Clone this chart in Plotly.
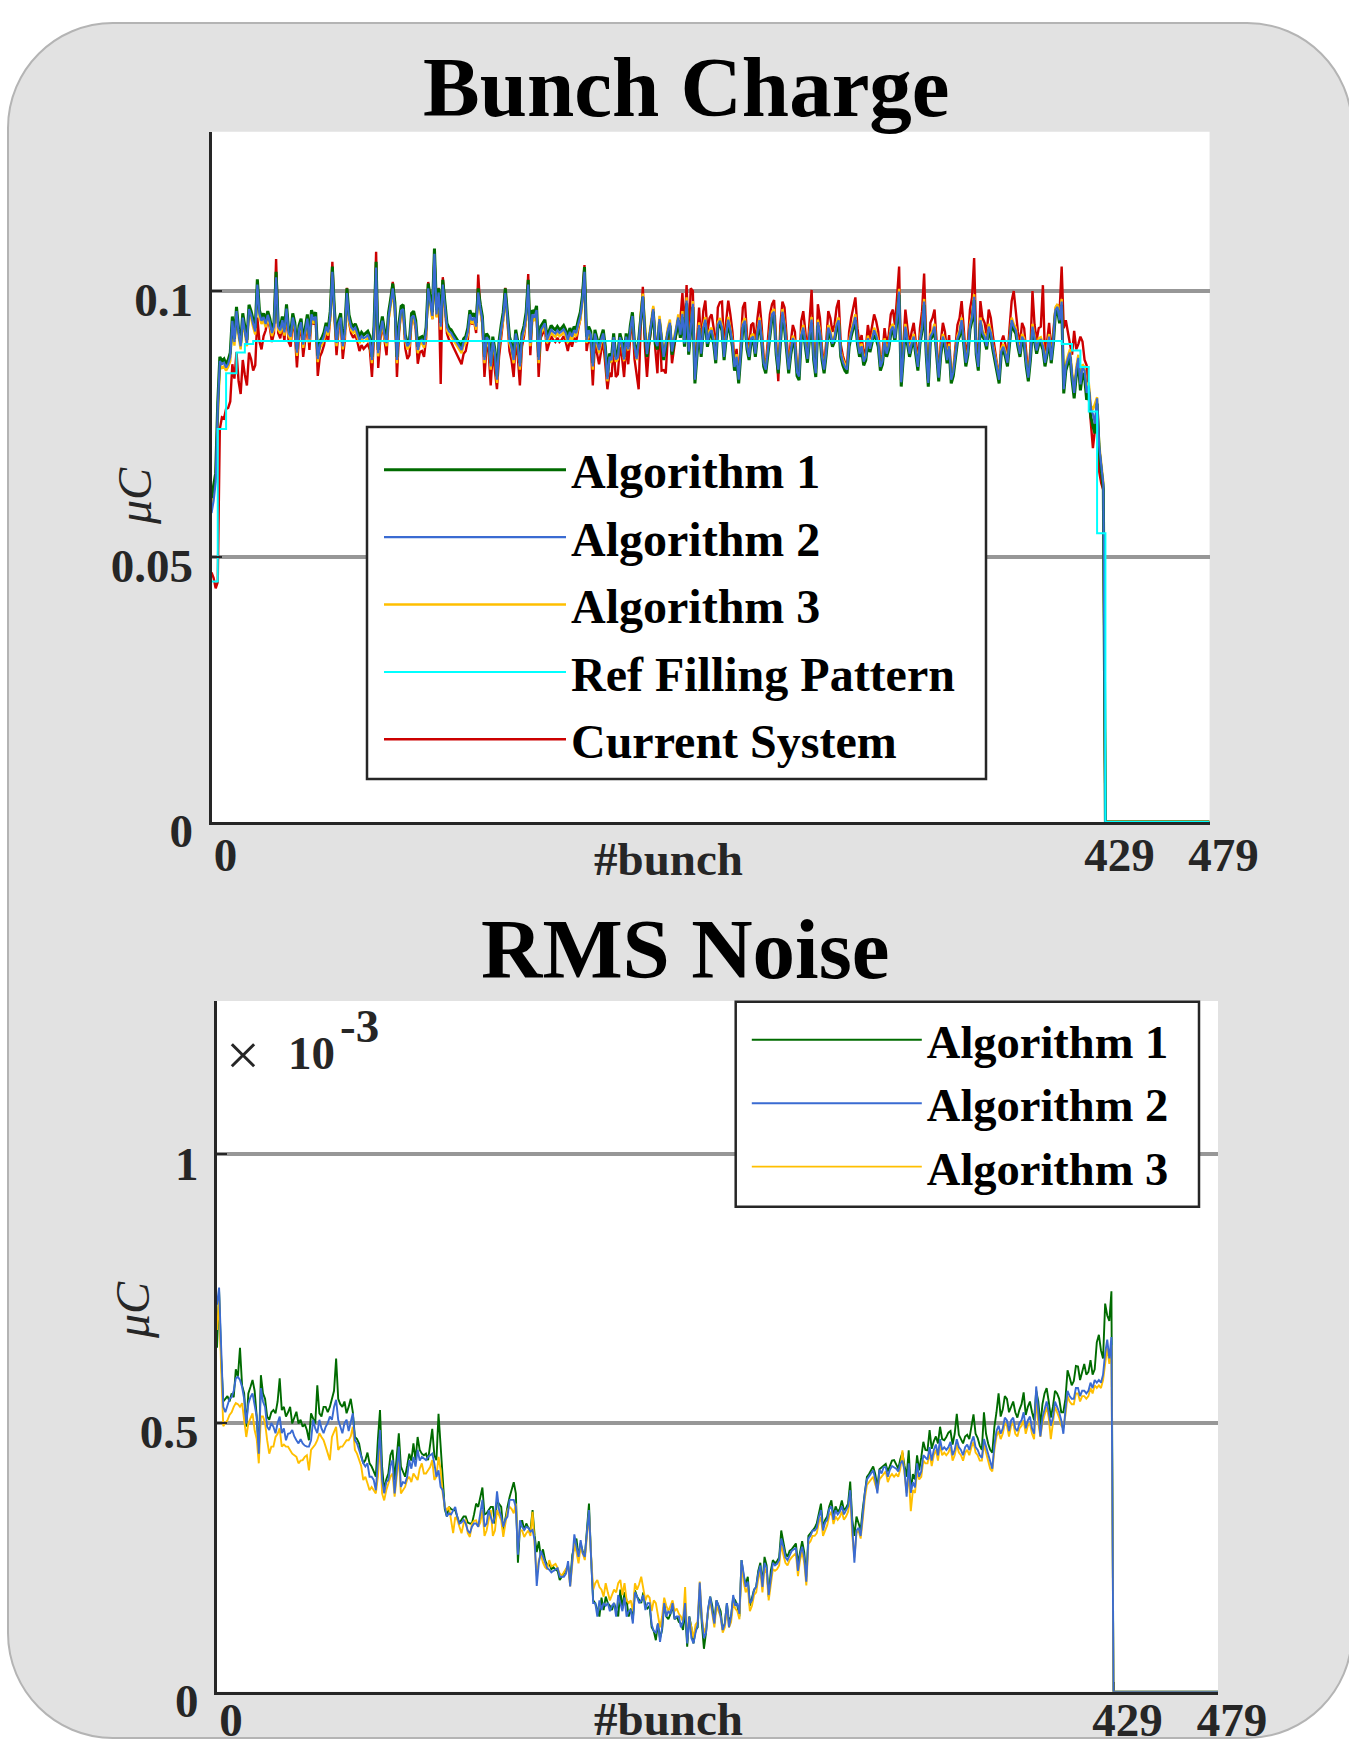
import plotly.graph_objects as go

W, H = 1349, 1746

# ---------------- data ----------------
# bunch index of every sample (bunches 430..478 are empty, drawn as a flat zero line to 479)
BUNCH = list(range(430)) + [479]

# Bunch charge, units of 1e-4 uC, bunches 0..428, then 0 at 429 and 479
BC_ALG1 = [
    610, 632, 657, 790, 876, 868, 872, 862, 870, 884,
    952, 910, 970, 928, 902, 958, 930, 908, 974, 962,
    945, 930, 1022, 964, 950, 958, 944, 962, 948, 927,
    940, 1036, 940, 932, 952, 928, 975, 927, 920, 958,
    940, 890, 935, 948, 905, 930, 956, 915, 964, 952,
    960, 878, 905, 912, 922, 940, 928, 962, 1046, 964,
    908, 945, 958, 902, 930, 1005, 955, 939, 933, 938,
    928, 914, 922, 917, 920, 924, 915, 876, 935, 1055,
    889, 930, 952, 925, 908, 960, 985, 1014, 978, 876,
    940, 971, 974, 918, 902, 908, 958, 962, 945, 895,
    912, 914, 905, 932, 1014, 989, 960, 1080, 964, 1005,
    940, 1021, 982, 939, 930, 927, 920, 914, 908, 902,
    895, 910, 914, 930, 964, 952, 958, 940, 1005, 975,
    952, 876, 920, 914, 864, 914, 890, 839, 905, 935,
    960, 1005, 960, 914, 900, 876, 927, 905, 864, 920,
    935, 960, 1021, 908, 964, 958, 972, 876, 933, 940,
    946, 914, 925, 935, 930, 927, 933, 927, 930, 935,
    927, 914, 930, 920, 933, 927, 945, 960, 990, 1045,
    914, 933, 924, 864, 927, 908, 895, 914, 927, 895,
    839, 882, 876, 920, 876, 880, 920, 905, 876, 920,
    895, 935, 960, 902, 876, 908, 952, 989, 920, 876,
    905, 930, 961, 900, 890, 942, 905, 870, 895, 920,
    935, 880, 902, 920, 945, 912, 951, 895, 977, 880,
    925, 970, 826, 880, 930, 876, 925, 940, 895, 915,
    920, 900, 864, 930, 938, 925, 870, 910, 940, 920,
    895, 850, 870, 826, 880, 930, 938, 890, 870, 905,
    908, 876, 915, 939, 905, 858, 845, 880, 920, 950,
    955, 880, 845, 905, 955, 930, 890, 845, 880, 905,
    895, 840, 832, 910, 925, 895, 865, 910, 940, 870,
    838, 935, 915, 870, 845, 880, 925, 915, 895, 905,
    930, 939, 876, 860, 850, 845, 895, 915, 930, 945,
    900, 876, 890, 860, 870, 905, 885, 900, 920, 910,
    895, 850, 862, 900, 876, 890, 920, 927, 905, 945,
    993, 820, 870, 927, 900, 876, 895, 908, 880, 850,
    900, 925, 974, 880, 820, 908, 915, 927, 880, 830,
    880, 908, 895, 864, 890, 826, 840, 876, 905, 915,
    939, 900, 858, 880, 927, 945, 983, 880, 850, 939,
    915, 908, 890, 927, 915, 889, 870, 845, 826, 880,
    889, 876, 858, 900, 939, 927, 920, 895, 876, 908,
    900, 858, 830, 870, 927, 905, 882, 900, 902, 890,
    858, 880, 908, 864, 900, 958, 964, 939, 974, 807,
    850, 864, 876, 832, 798, 840, 864, 813, 845, 838,
    795, 810, 763, 745, 732, 788, 700, 663, 628,
    0, 0,
]

BC_ALG2 = [
    582, 605, 640, 780, 868, 862, 865, 856, 863, 876,
    944, 904, 962, 921, 896, 950, 924, 902, 966, 955,
    938, 924, 1012, 957, 944, 951, 938, 955, 941, 921,
    934, 1026, 933, 926, 945, 922, 967, 921, 914, 950,
    933, 884, 928, 941, 899, 923, 948, 909, 956, 945,
    952, 872, 899, 905, 915, 933, 922, 954, 1036, 957,
    902, 938, 950, 896, 923, 996, 948, 932, 927, 931,
    921, 908, 915, 911, 913, 917, 909, 870, 928, 1044,
    883, 923, 944, 918, 902, 952, 977, 1005, 970, 870,
    933, 963, 966, 912, 896, 902, 950, 954, 938, 889,
    906, 908, 899, 925, 1005, 981, 953, 1070, 956, 997,
    933, 1012, 975, 932, 924, 921, 914, 908, 902, 896,
    889, 904, 908, 923, 956, 945, 950, 933, 997, 968,
    945, 870, 913, 908, 858, 907, 884, 833, 898, 928,
    952, 996, 952, 907, 894, 870, 920, 899, 858, 913,
    928, 952, 1012, 902, 956, 950, 964, 870, 926, 933,
    939, 908, 918, 928, 923, 920, 926, 921, 924, 928,
    921, 908, 923, 914, 926, 921, 938, 952, 982, 1036,
    908, 926, 918, 858, 920, 902, 889, 908, 920, 889,
    834, 876, 870, 913, 871, 875, 913, 900, 871, 914,
    890, 929, 953, 898, 872, 904, 956, 990, 924, 881,
    910, 935, 966, 906, 896, 947, 911, 876, 901, 925,
    940, 886, 908, 926, 950, 918, 957, 901, 982, 886,
    931, 976, 833, 886, 936, 882, 931, 946, 901, 921,
    926, 906, 870, 936, 944, 931, 876, 916, 946, 926,
    901, 857, 876, 833, 886, 936, 944, 896, 876, 911,
    914, 882, 921, 945, 911, 864, 852, 886, 926, 956,
    961, 886, 852, 911, 961, 936, 896, 852, 886, 911,
    901, 847, 839, 916, 931, 901, 872, 916, 946, 876,
    845, 941, 921, 876, 852, 886, 931, 921, 901, 911,
    936, 945, 882, 866, 857, 852, 901, 921, 936, 951,
    906, 882, 896, 867, 876, 911, 891, 906, 926, 916,
    901, 857, 868, 906, 882, 896, 926, 933, 911, 951,
    999, 828, 876, 933, 906, 882, 901, 914, 886, 857,
    906, 931, 980, 886, 827, 914, 921, 933, 886, 837,
    886, 914, 901, 870, 896, 833, 847, 882, 911, 921,
    945, 906, 865, 886, 933, 951, 989, 886, 857, 945,
    921, 914, 896, 933, 921, 895, 876, 852, 833, 886,
    895, 882, 865, 906, 945, 933, 926, 901, 882, 914,
    906, 865, 837, 876, 933, 911, 888, 906, 908, 896,
    865, 886, 914, 870, 906, 964, 970, 945, 980, 815,
    858, 872, 884, 841, 808, 850, 874, 824, 856, 850,
    808, 822, 778, 768, 750, 798, 708, 672, 635,
    0, 0,
]

BC_ALG3 = [
    600, 620, 650, 770, 860, 855, 858, 850, 857, 868,
    938, 897, 956, 915, 890, 944, 918, 896, 960, 949,
    932, 918, 1006, 951, 938, 945, 932, 949, 935, 915,
    928, 1020, 927, 920, 939, 916, 961, 915, 908, 944,
    927, 878, 922, 935, 893, 917, 942, 903, 950, 939,
    946, 866, 893, 899, 909, 927, 916, 948, 1030, 951,
    896, 932, 944, 890, 917, 990, 942, 926, 921, 925,
    915, 902, 909, 905, 907, 911, 903, 864, 922, 1038,
    877, 917, 938, 912, 896, 946, 971, 999, 964, 864,
    927, 957, 960, 906, 890, 896, 944, 948, 932, 883,
    900, 902, 893, 919, 999, 975, 947, 1064, 950, 991,
    927, 1006, 969, 926, 918, 915, 908, 902, 896, 890,
    883, 898, 902, 917, 950, 939, 944, 927, 991, 962,
    939, 864, 907, 902, 852, 901, 878, 827, 892, 922,
    946, 990, 946, 901, 888, 864, 914, 893, 852, 907,
    922, 946, 1006, 896, 950, 944, 958, 864, 920, 927,
    933, 902, 912, 922, 917, 914, 920, 915, 918, 922,
    915, 902, 917, 908, 920, 915, 932, 946, 976, 1030,
    902, 920, 912, 852, 914, 896, 883, 902, 914, 883,
    830, 871, 866, 909, 867, 871, 909, 896, 868, 911,
    888, 927, 951, 896, 870, 902, 960, 995, 930, 886,
    915, 940, 972, 911, 901, 953, 916, 881, 906, 931,
    946, 891, 913, 931, 956, 923, 962, 906, 988, 891,
    936, 981, 838, 891, 941, 887, 936, 951, 906, 926,
    931, 911, 875, 941, 949, 936, 881, 921, 951, 931,
    906, 862, 881, 838, 891, 941, 949, 901, 881, 916,
    919, 887, 926, 950, 916, 869, 857, 891, 931, 961,
    966, 891, 857, 916, 966, 941, 901, 857, 891, 916,
    906, 852, 844, 921, 936, 906, 877, 921, 951, 881,
    850, 946, 926, 881, 857, 891, 936, 926, 906, 916,
    941, 950, 887, 871, 862, 857, 906, 926, 941, 956,
    911, 887, 901, 872, 881, 916, 896, 911, 931, 921,
    906, 862, 873, 911, 887, 901, 931, 938, 916, 956,
    1004, 833, 881, 938, 911, 887, 906, 919, 891, 862,
    911, 936, 985, 891, 832, 919, 926, 938, 891, 842,
    891, 919, 906, 875, 901, 838, 852, 887, 916, 926,
    950, 911, 870, 891, 938, 956, 994, 891, 862, 950,
    926, 919, 901, 938, 926, 900, 881, 857, 838, 891,
    900, 887, 870, 911, 950, 938, 931, 906, 887, 919,
    911, 870, 842, 881, 938, 916, 893, 911, 913, 901,
    870, 891, 919, 875, 911, 969, 975, 950, 985, 820,
    864, 878, 890, 848, 815, 856, 880, 830, 862, 856,
    814, 828, 785, 776, 790, 800, 712, 675, 640,
    0, 0,
]

BC_CURRENT = [
    470, 460, 440, 452, 740, 762, 760, 778, 780, 792,
    862, 835, 885, 830, 806, 870, 842, 822, 884, 872,
    850, 860, 950, 905, 890, 915, 926, 950, 931, 904,
    921, 1060, 921, 911, 937, 905, 967, 904, 895, 944,
    921, 856, 915, 931, 876, 908, 942, 889, 952, 937,
    947, 840, 876, 885, 898, 921, 905, 950, 1055, 952,
    879, 928, 944, 872, 908, 1006, 941, 920, 912, 918,
    905, 887, 898, 891, 895, 900, 889, 838, 915, 1074,
    855, 908, 937, 902, 879, 947, 980, 1017, 970, 838,
    921, 961, 965, 892, 872, 879, 944, 950, 928, 863,
    885, 887, 876, 911, 1017, 985, 947, 1070, 952, 1006,
    825, 1026, 976, 920, 908, 904, 895, 887, 879, 872,
    862, 882, 887, 908, 952, 937, 944, 921, 1031, 967,
    937, 838, 895, 887, 822, 887, 856, 815, 876, 915,
    947, 1006, 947, 887, 869, 838, 904, 876, 822, 895,
    915, 947, 1032, 879, 952, 944, 963, 838, 912, 921,
    929, 887, 902, 915, 908, 904, 912, 904, 908, 915,
    904, 887, 908, 895, 912, 904, 928, 947, 986, 1049,
    887, 912, 900, 822, 904, 879, 862, 887, 904, 862,
    815, 846, 838, 895, 838, 843, 895, 876, 838, 895,
    862, 915, 947, 872, 838, 815, 937, 1008, 895, 838,
    896, 929, 969, 890, 845, 945, 850, 851, 845, 916,
    935, 864, 893, 916, 949, 946, 996, 924, 1011, 904,
    1005, 1000, 834, 904, 969, 899, 962, 982, 923, 949,
    956, 930, 883, 969, 979, 980, 891, 943, 982, 956,
    923, 865, 891, 834, 904, 969, 979, 917, 891, 936,
    940, 899, 949, 981, 936, 875, 858, 904, 956, 975,
    983, 904, 830, 936, 980, 969, 917, 858, 904, 936,
    923, 852, 842, 943, 962, 923, 884, 943, 1002, 891,
    849, 975, 949, 891, 858, 904, 962, 949, 923, 936,
    969, 983, 899, 878, 865, 858, 923, 949, 969, 988,
    930, 899, 917, 878, 891, 936, 910, 930, 956, 943,
    923, 865, 881, 930, 899, 917, 956, 965, 936, 988,
    1046, 826, 891, 965, 930, 899, 923, 940, 904, 865,
    930, 962, 1033, 904, 826, 940, 949, 965, 904, 839,
    904, 940, 923, 883, 917, 834, 852, 899, 936, 949,
    981, 930, 875, 904, 965, 988, 1062, 904, 865, 981,
    949, 940, 917, 965, 949, 916, 891, 858, 834, 904,
    916, 899, 875, 930, 981, 1000, 956, 923, 899, 940,
    930, 875, 839, 891, 1000, 936, 907, 930, 933, 1011,
    875, 904, 940, 883, 930, 965, 975, 960, 1046, 930,
    945, 920, 900, 880, 925, 890, 900, 914, 905, 870,
    860, 800, 750, 704, 740, 770, 660, 638, 625,
    0, 0,
]

# Reference filling pattern: step values (1e-4 uC) starting at each listed bunch
REF_BUNCH = [0, 3, 7, 12, 16, 20, 408, 413, 417, 421, 425, 429, 479]
REF_LEVEL = [453, 740, 845, 884, 900, 906, 900, 888, 857, 773, 544, 0, 0]

# RMS noise, units of 1e-6 uC (axis shows x 10^-3 uC), bunches 0..428, then 0 at 429 and 479
RMS_ALG1 = [
    640, 745, 620, 540, 545, 550, 540, 555, 548, 600,
    586, 640, 570, 555, 493, 555, 567, 580, 560, 512,
    443, 589, 555, 545, 512, 506, 520, 524, 518, 540,
    583, 524, 530, 512, 520, 530, 499, 512, 521, 499,
    506, 493, 498, 487, 468, 518, 510, 499, 570, 518,
    512, 530, 530, 520, 530, 543, 560, 620, 545, 535,
    530, 540, 518, 530, 545, 520, 474, 470, 462, 440,
    425, 431, 445, 425, 419, 410, 400, 470, 524, 419,
    375, 395, 406, 440, 450, 394, 440, 481, 419, 410,
    400, 420, 443, 430, 462, 431, 474, 450, 443, 440,
    443, 431, 460, 489, 440, 431, 517, 462, 394, 340,
    326, 344, 340, 338, 338, 325, 313, 320, 326, 326,
    315, 313, 313, 330, 350, 344, 360, 380, 330, 332,
    338, 344, 344, 313, 355, 350, 344, 300, 325, 344,
    362, 375, 390, 369, 240, 307, 319, 301, 313, 305,
    300, 338, 290, 260, 280, 250, 265, 245, 235, 239,
    228, 232, 227, 225, 208, 214, 220, 227, 235, 205,
    254, 270, 285, 251, 276, 262, 251, 301, 350, 251,
    170, 165, 150, 140, 175, 152, 177, 165, 160, 152,
    165, 150, 140, 190, 155, 185, 170, 140, 155, 135,
    189, 177, 170, 165, 185, 160, 155, 160, 120, 113,
    96, 127, 100, 115, 165, 140, 135, 145, 160, 135,
    140, 130, 127, 115, 150, 84, 140, 120, 90, 115,
    120, 190, 127, 80, 110, 152, 177, 160, 127, 170,
    160, 150, 115, 127, 165, 130, 140, 175, 170, 160,
    140, 245, 215, 200, 214, 160, 175, 190, 195, 225,
    240, 200, 251, 235, 177, 225, 245, 239, 243, 250,
    300, 280, 258, 251, 262, 265, 270, 276, 239, 262,
    280, 260, 214, 290, 295, 300, 305, 313, 330, 350,
    305, 320, 326, 345, 356, 326, 345, 335, 340, 356,
    338, 342, 350, 391, 320, 290, 326, 315, 301, 340,
    375, 400, 405, 412, 419, 405, 380, 414, 418, 420,
    424, 410, 420, 430, 431, 424, 415, 433, 445, 420,
    400, 449, 372, 405, 395, 440, 412, 436, 465, 450,
    449, 487, 452, 466, 475, 462, 493, 470, 468, 474,
    482, 485, 460, 480, 517, 478, 470, 462, 475, 478,
    470, 490, 516, 480, 472, 458, 450, 520, 480, 462,
    450, 445, 493, 520, 555, 512, 525, 550, 545, 520,
    530, 540, 520, 510, 525, 535, 557, 515, 530, 540,
    520, 505, 560, 540, 495, 535, 555, 565, 540, 510,
    530, 560, 555, 545, 520, 520, 545, 598, 585, 570,
    578, 606, 605, 580, 595, 610, 590, 595, 617, 590,
    600, 650, 664, 635, 620, 722, 700, 690, 745,
    0, 0,
]

RMS_ALG2 = [
    720, 752, 640, 530, 520, 535, 545, 548, 560, 583,
    586, 580, 567, 545, 499, 536, 548, 555, 530, 512,
    443, 565, 540, 530, 493, 487, 500, 493, 481, 500,
    512, 481, 490, 468, 480, 481, 487, 475, 468, 462,
    470, 462, 458, 456, 456, 468, 506, 490, 481, 506,
    490, 481, 493, 500, 512, 506, 530, 543, 506, 495,
    481, 500, 506, 485, 500, 518, 468, 462, 450, 437,
    425, 419, 425, 400, 400, 394, 375, 430, 487, 394,
    369, 390, 394, 420, 431, 369, 410, 456, 381, 390,
    388, 400, 431, 415, 437, 419, 450, 430, 437, 433,
    431, 437, 440, 443, 425, 400, 412, 381, 375, 344,
    326, 332, 330, 338, 344, 325, 313, 315, 320, 313,
    300, 295, 307, 313, 313, 307, 330, 357, 307, 313,
    338, 325, 313, 326, 373, 338, 326, 307, 320, 326,
    357, 357, 357, 344, 255, 319, 307, 301, 307, 305,
    298, 301, 282, 197, 240, 262, 250, 240, 230, 227,
    222, 225, 227, 230, 214, 214, 214, 220, 243, 196,
    254, 293, 270, 251, 282, 258, 251, 290, 338, 251,
    165, 165, 140, 170, 152, 165, 160, 165, 150, 160,
    165, 140, 180, 165, 150, 175, 140, 150, 152, 127,
    185, 177, 165, 170, 180, 152, 165, 165, 125, 113,
    110, 127, 93, 120, 165, 140, 150, 145, 165, 135,
    140, 140, 120, 130, 165, 90, 140, 100, 90, 110,
    125, 203, 135, 100, 110, 155, 177, 150, 127, 170,
    160, 140, 115, 127, 165, 120, 140, 180, 160, 165,
    145, 245, 215, 195, 205, 165, 170, 190, 195, 220,
    235, 195, 240, 230, 180, 215, 240, 235, 238, 245,
    285, 270, 250, 245, 255, 262, 265, 268, 225, 255,
    270, 250, 205, 285, 290, 300, 300, 305, 325, 338,
    300, 315, 320, 340, 345, 320, 338, 330, 335, 345,
    330, 338, 345, 375, 300, 240, 300, 305, 290, 330,
    370, 395, 400, 405, 412, 395, 369, 413, 406, 418,
    418, 400, 413, 420, 418, 415, 410, 425, 430, 412,
    363, 425, 370, 390, 380, 425, 400, 410, 440, 436,
    432, 455, 430, 450, 460, 440, 470, 450, 455, 450,
    455, 465, 440, 450, 470, 455, 450, 440, 455, 460,
    450, 465, 475, 455, 450, 440, 435, 470, 455, 445,
    425, 415, 460, 485, 495, 480, 490, 510, 505, 485,
    505, 510, 490, 485, 500, 505, 520, 490, 505, 512,
    490, 480, 568, 520, 475, 510, 525, 540, 520, 495,
    510, 540, 530, 520, 505, 480, 525, 560, 550, 545,
    545, 565, 565, 550, 560, 560, 555, 560, 575, 565,
    580, 575, 580, 575, 590, 630, 655, 620, 660,
    0, 0,
]

RMS_ALG3 = [
    673, 729, 600, 494, 500, 505, 515, 520, 530, 537,
    535, 530, 537, 505, 474, 499, 510, 518, 487, 470,
    425, 512, 512, 500, 468, 443, 456, 456, 474, 480,
    490, 456, 460, 456, 456, 450, 443, 440, 437, 425,
    430, 431, 437, 440, 412, 450, 455, 460, 468, 481,
    474, 468, 456, 445, 431, 474, 485, 493, 450, 456,
    456, 462, 468, 468, 475, 493, 450, 443, 431, 420,
    394, 400, 388, 375, 381, 375, 369, 400, 462, 369,
    356, 375, 388, 400, 406, 363, 400, 437, 369, 375,
    381, 395, 400, 390, 406, 400, 394, 415, 425, 406,
    406, 412, 418, 431, 394, 400, 437, 413, 369, 344,
    338, 344, 320, 295, 325, 320, 307, 295, 313, 320,
    295, 288, 313, 318, 319, 307, 315, 338, 290, 300,
    320, 338, 290, 300, 338, 330, 319, 288, 310, 338,
    344, 340, 332, 350, 270, 300, 300, 288, 295, 300,
    290, 335, 270, 215, 245, 255, 240, 232, 228, 245,
    233, 235, 238, 230, 220, 216, 222, 230, 235, 196,
    240, 276, 260, 239, 270, 255, 245, 288, 330, 255,
    190, 202, 208, 195, 190, 177, 202, 185, 170, 180,
    190, 185, 202, 208, 180, 202, 170, 165, 170, 150,
    202, 190, 200, 214, 190, 170, 180, 175, 150, 170,
    165, 140, 120, 140, 175, 160, 150, 160, 170, 150,
    155, 145, 140, 130, 195, 100, 135, 120, 100, 125,
    130, 205, 140, 110, 120, 150, 170, 145, 120, 160,
    150, 140, 110, 120, 155, 120, 130, 165, 155, 150,
    135, 235, 205, 185, 195, 150, 160, 180, 185, 210,
    225, 185, 230, 220, 170, 205, 228, 225, 228, 235,
    275, 255, 240, 235, 245, 250, 255, 258, 215, 245,
    260, 240, 198, 275, 280, 290, 290, 295, 315, 325,
    290, 300, 310, 328, 335, 312, 326, 320, 325, 335,
    320, 326, 335, 365, 290, 250, 295, 300, 285, 320,
    360, 385, 390, 395, 400, 385, 375, 395, 400, 405,
    410, 390, 400, 405, 400, 405, 400, 415, 449, 405,
    370, 405, 336, 375, 370, 410, 395, 400, 430, 425,
    425, 445, 420, 440, 450, 430, 460, 440, 445, 440,
    445, 455, 430, 440, 460, 445, 440, 430, 445, 450,
    440, 455, 465, 445, 440, 430, 430, 460, 445, 435,
    415, 410, 450, 475, 485, 470, 480, 500, 495, 475,
    495, 500, 480, 475, 490, 495, 505, 480, 495, 500,
    480, 470, 545, 500, 474, 500, 515, 530, 510, 470,
    500, 530, 520, 510, 495, 490, 515, 550, 540, 535,
    535, 555, 555, 540, 550, 550, 545, 550, 565, 555,
    570, 565, 570, 565, 580, 615, 640, 610, 645,
    0, 0,
]

BC_TICKS = [0, 0.05, 0.1]
BC_TICKTEXT = ["0", "0.05", "0.1"]
RMS_TICKS = [0, 0.5, 1]
RMS_TICKTEXT = ["0", "0.5", "1"]
X_TICKS = [0, 429, 479]
X_TICKTEXT = ["0", "429", "479"]

for name, arr in [("BC_ALG1", BC_ALG1), ("BC_ALG2", BC_ALG2), ("BC_ALG3", BC_ALG3),
                  ("BC_CURRENT", BC_CURRENT), ("RMS_ALG1", RMS_ALG1),
                  ("RMS_ALG2", RMS_ALG2), ("RMS_ALG3", RMS_ALG3)]:
    if len(arr) != len(BUNCH):
        raise SystemExit(f"{name} has {len(arr)} values, expected {len(BUNCH)}")

# ---------------- styling ----------------
SERIF = "Liberation Serif"
GREEN, BLUE, YELLOW, CYAN, RED = "#006b00", "#3a6bd2", "#ffbf00", "#00ffff", "#cc0000"
AXC = "#262626"

def px(x):
    return x / W

def py(y):
    return 1 - y / H

fig = go.Figure()

# top chart: drawing order red, yellow, green, blue, cyan
top = [
    ("Current System", BC_CURRENT, RED, 2.4, 5),
    ("Algorithm 3", BC_ALG3, YELLOW, 2.4, 3),
    ("Algorithm 1", BC_ALG1, GREEN, 3.0, 1),
    ("Algorithm 2", BC_ALG2, BLUE, 2.2, 2),
]
for name, vals, col, lw, rank in top:
    fig.add_trace(go.Scatter(
        x=BUNCH, y=[v * 1e-4 for v in vals], mode="lines", name=name,
        line=dict(color=col, width=lw), legend="legend", legendrank=rank,
        legendgroup="t" + name, xaxis="x", yaxis="y", hoverinfo="skip"))
fig.add_trace(go.Scatter(
    x=REF_BUNCH, y=[v * 1e-4 for v in REF_LEVEL], mode="lines", line_shape="hv",
    name="Ref Filling Pattern", line=dict(color=CYAN, width=2.0), legend="legend",
    legendrank=4, legendgroup="tRef", xaxis="x", yaxis="y", hoverinfo="skip"))

# bottom chart
bottom = [
    ("Algorithm 1", RMS_ALG1, GREEN, 1.9, 1),
    ("Algorithm 3", RMS_ALG3, YELLOW, 1.9, 3),
    ("Algorithm 2", RMS_ALG2, BLUE, 1.9, 2),
]
for name, vals, col, lw, rank in bottom:
    fig.add_trace(go.Scatter(
        x=BUNCH, y=[v / 1000 for v in vals], mode="lines", name=name,
        line=dict(color=col, width=lw), legend="legend2", legendrank=rank,
        xaxis="x2", yaxis="y2", hoverinfo="skip"))

tickfont = dict(family=SERIF, size=47, color=AXC, weight="bold")
common_x = dict(
    range=[0, 479], tickvals=X_TICKS, ticktext=X_TICKTEXT, showgrid=False,
    zeroline=False, showline=True, linecolor=AXC, linewidth=3, ticks="inside",
    ticklen=10, tickwidth=2, tickcolor=AXC, tickfont=tickfont,
    ticklabelshift=14, layer="below traces", fixedrange=True, automargin=False)
common_y = dict(
    showgrid=True, gridcolor="#979797", gridwidth=4, zeroline=False,
    showline=True, linecolor=AXC, linewidth=3, ticks="inside", ticklen=10,
    tickwidth=2, tickcolor=AXC, tickfont=tickfont, ticklabelshift=9,
    ticklabelstandoff=6, fixedrange=True, automargin=False)

# rounded background panel
x0, y0, x1, y1, r = 8, 23, 1352, 1738, 105
k = 0.5523 * r
panel_path = (
    f"M{px(x0 + r)},{py(y0)} L{px(x1 - r)},{py(y0)} "
    f"C{px(x1 - r + k)},{py(y0)} {px(x1)},{py(y0 + r - k)} {px(x1)},{py(y0 + r)} "
    f"L{px(x1)},{py(y1 - r)} "
    f"C{px(x1)},{py(y1 - r + k)} {px(x1 - r + k)},{py(y1)} {px(x1 - r)},{py(y1)} "
    f"L{px(x0 + r)},{py(y1)} "
    f"C{px(x0 + r - k)},{py(y1)} {px(x0)},{py(y1 - r + k)} {px(x0)},{py(y1 - r)} "
    f"L{px(x0)},{py(y0 + r)} "
    f"C{px(x0)},{py(y0 + r - k)} {px(x0 + r - k)},{py(y0)} {px(x0 + r)},{py(y0)} Z"
)

shapes = [
    dict(type="path", path=panel_path, xref="paper", yref="paper",
         fillcolor="#e2e2e2", line=dict(color="#b4b4b4", width=2), layer="below"),
    dict(type="rect", xref="x domain", yref="y domain", x0=0, x1=1, y0=0, y1=1,
         fillcolor="white", line=dict(width=0), layer="below"),
    dict(type="rect", xref="x2 domain", yref="y2 domain", x0=0, x1=1, y0=0, y1=1,
         fillcolor="white", line=dict(width=0), layer="below"),
    # legend frames
    dict(type="rect", xref="paper", yref="paper", x0=px(367), x1=px(986),
         y0=py(779), y1=py(427), fillcolor="white",
         line=dict(color=AXC, width=2.5), layer="above"),
    dict(type="rect", xref="paper", yref="paper", x0=px(735.7), x1=px(1199),
         y0=py(1206.7), y1=py(1001.7), fillcolor="white",
         line=dict(color=AXC, width=2.5), layer="above"),
]

ann_font = dict(family=SERIF, size=47, color=AXC, weight="bold")
annotations = [
    dict(text="Bunch Charge", x=px(686), y=py(87), xref="paper", yref="paper",
         showarrow=False, xanchor="center", yanchor="middle",
         font=dict(family=SERIF, size=85, color="black", weight="bold")),
    dict(text="RMS Noise", x=px(685), y=py(949), xref="paper", yref="paper",
         showarrow=False, xanchor="center", yanchor="middle",
         font=dict(family=SERIF, size=85, color="black", weight="bold")),
    dict(text="#bunch", x=px(668), y=py(859), xref="paper", yref="paper",
         showarrow=False, xanchor="center", yanchor="middle", font=ann_font),
    dict(text="#bunch", x=px(668), y=py(1719), xref="paper", yref="paper",
         showarrow=False, xanchor="center", yanchor="middle", font=ann_font),
    dict(text="<i>μC</i>", x=px(134), y=py(496), xref="paper", yref="paper",
         showarrow=False, textangle=-90, xanchor="center", yanchor="middle",
         font=dict(family=SERIF, size=48, color=AXC)),
    dict(text="<i>μC</i>", x=px(132), y=py(1310), xref="paper", yref="paper",
         showarrow=False, textangle=-90, xanchor="center", yanchor="middle",
         font=dict(family=SERIF, size=48, color=AXC)),
    dict(text="×", x=px(242.5), y=py(1055), xref="paper", yref="paper",
         showarrow=False, xanchor="center", yanchor="middle",
         font=dict(family=SERIF, size=60, color=AXC)),
    dict(text="10", x=px(286), y=py(1053), xref="paper", yref="paper",
         showarrow=False, xanchor="left", yanchor="middle", font=ann_font),
    dict(text="-3", x=px(338), y=py(1026), xref="paper", yref="paper",
         showarrow=False, xanchor="left", yanchor="middle", font=ann_font),
]

fig.update_layout(
    width=W, height=H, autosize=False,
    margin=dict(l=0, r=0, t=0, b=0, pad=0, autoexpand=False),
    paper_bgcolor="white", plot_bgcolor="white",
    xaxis=dict(domain=[px(211.5), px(1209.6)], anchor="y", ticklabelstandoff=-10, **common_x),
    yaxis=dict(domain=[py(822), py(131.7)], anchor="x", range=[0, 0.13],
               tickvals=BC_TICKS, ticktext=BC_TICKTEXT, **common_y),
    xaxis2=dict(domain=[px(217), px(1218)], anchor="y2", ticklabelstandoff=-15, **common_x),
    yaxis2=dict(domain=[py(1691.8), py(1001)], anchor="x2", range=[0, 1.285],
                tickvals=RMS_TICKS, ticktext=RMS_TICKTEXT, **common_y),
    legend=dict(x=px(379), y=py(432), xanchor="left", yanchor="top",
                bgcolor="rgba(0,0,0,0)", borderwidth=0,
                font=dict(family=SERIF, size=48, color="black", weight="bold"),
                itemwidth=182, tracegroupgap=2, traceorder="grouped",
                itemclick=False, itemdoubleclick=False),
    legend2=dict(x=px(746.8), y=py(1003), xanchor="left", yanchor="top",
                 bgcolor="rgba(0,0,0,0)", borderwidth=0,
                 font=dict(family=SERIF, size=46.5, color="black", weight="bold"),
                 itemwidth=170, traceorder="normal",
                 itemclick=False, itemdoubleclick=False),
    showlegend=True,
    shapes=shapes,
    annotations=annotations,
)

fig.write_html("out.html", include_plotlyjs=True, full_html=True,
               config={"displayModeBar": False, "staticPlot": True, "responsive": False},
               post_script="document.body.style.margin='0';document.body.style.overflow='hidden';")
